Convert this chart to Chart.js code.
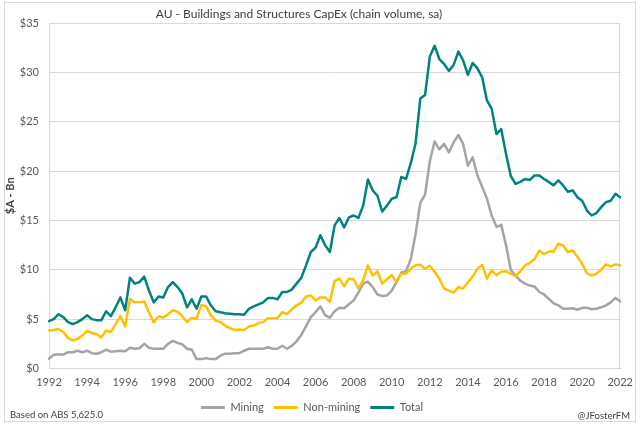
<!DOCTYPE html>
<html><head><meta charset="utf-8">
<script src="https://cdn.jsdelivr.net/npm/chart.js@4.4.0/dist/chart.umd.min.js"></script>
<style>html,body{margin:0;padding:0;background:#fff;}canvas{display:block;}</style>
</head><body>
<canvas id="c" width="640" height="427"></canvas>
<script>
const firstYear = 1992, lastYear = 2022;
const categories = [];
for (let y = firstYear; y <= lastYear; y++) {
  for (let q = 1; q <= 4; q++) {
    if (y === lastYear && q > 1) break;
    categories.push(y + 'Q' + q);
  }
}
const xTickYears = [1992,1994,1996,1998,2000,2002,2004,2006,2008,2010,2012,2014,2016,2018,2020,2022];
const yTickValues = [0,5,10,15,20,25,30,35];

const mining = [
  1.0,1.4,1.45,1.4,1.65,1.65,1.8,1.65,1.8,1.55,
  1.5,1.65,1.9,1.7,1.75,1.8,1.75,2.1,2.0,2.05,
  2.5,2.1,2.0,2.0,2.0,2.5,2.8,2.6,2.45,2.0,
  1.9,0.95,0.95,1.05,0.95,0.95,1.3,1.5,1.5,1.55,
  1.55,1.8,2.0,2.0,2.0,2.0,2.15,2.0,2.0,2.3,
  2.0,2.3,2.75,3.4,4.3,5.2,5.7,6.3,5.4,5.15,
  5.8,6.15,6.1,6.5,6.9,7.7,8.6,8.8,8.25,7.5,
  7.35,7.4,7.9,8.75,9.7,9.85,11.1,13.6,16.8,17.6,
  21.0,23.0,22.2,22.75,21.9,22.9,23.65,22.75,20.55,21.4,
  19.55,18.4,17.2,15.5,14.35,14.55,12.5,10.0,9.4,8.9,
  8.6,8.4,8.3,7.75,7.5,7.05,6.6,6.4,6.05,6.05,
  6.1,5.95,6.15,6.15,6.0,6.05,6.2,6.4,6.7,7.15,
  6.8
];
const nonMining = [
  3.85,3.9,4.0,3.7,3.1,2.85,3.0,3.35,3.8,3.6,
  3.5,3.15,3.85,3.7,4.5,5.3,4.25,7.05,6.7,6.7,
  6.8,5.7,4.7,5.3,5.15,5.5,5.9,5.75,5.3,4.7,
  5.15,5.05,6.4,6.3,5.4,4.85,4.7,4.35,4.1,3.9,
  3.95,3.9,4.25,4.35,4.6,4.7,5.1,5.1,5.1,5.7,
  5.5,6.0,6.4,6.65,7.3,7.4,6.9,7.2,7.2,6.75,
  8.85,9.1,8.35,9.1,9.05,8.1,8.95,10.45,9.4,9.85,
  8.6,9.05,9.45,8.75,9.6,9.6,10.1,10.45,10.5,10.1,
  10.4,9.8,9.1,8.1,7.9,7.7,8.25,8.1,8.75,9.3,
  10.1,10.5,9.1,9.95,9.45,9.8,9.85,9.6,9.35,9.85,
  10.45,10.7,11.1,11.95,11.6,11.85,11.85,12.65,12.45,11.8,
  11.95,11.35,10.6,9.65,9.4,9.6,10.0,10.55,10.35,10.55,
  10.45
];
const total = [
  4.8,5.0,5.5,5.2,4.7,4.5,4.7,5.0,5.4,5.0,
  4.9,4.9,5.8,5.3,6.2,7.2,5.9,9.2,8.6,8.75,
  9.3,7.9,6.7,7.3,7.2,8.25,8.75,8.25,7.6,6.2,
  7.0,6.05,7.3,7.3,6.4,5.8,5.7,5.6,5.55,5.5,
  5.5,5.45,6.05,6.3,6.5,6.7,7.15,7.15,7.0,7.75,
  7.75,8.0,8.6,9.2,10.45,11.8,12.25,13.5,12.5,11.8,
  14.5,15.25,14.3,15.3,15.5,15.25,16.5,19.15,18.05,17.5,
  15.9,16.5,17.2,17.35,19.4,19.2,20.8,22.8,27.35,27.7,
  31.6,32.7,31.35,30.85,30.15,30.75,32.1,31.2,29.75,30.95,
  30.4,29.5,27.15,26.3,23.75,24.25,21.75,19.5,18.7,18.9,
  19.2,19.1,19.55,19.55,19.2,18.9,18.55,19.05,18.55,17.9,
  18.05,17.35,17.0,16.0,15.5,15.75,16.35,16.85,17.0,17.7,
  17.35
];

const seriesNames = ['Mining','Non-mining','Total'];
const chartTitle = 'AU - Buildings and Structures CapEx (chain volume, sa)';
const yAxisTitle = '$A - Bn';
const sourceNote = 'Based on ABS 5,625.0';
const handle = '@JFosterFM';

const FONT = 'Lato, "Open Sans", sans-serif';

const deco = {
  id: 'deco',
  beforeDraw(c) {
    const g = c.ctx;
    g.save();
    g.fillStyle = '#ffffff';
    g.fillRect(0, 0, c.width, c.height);
    g.strokeStyle = '#D9D9D9';
    g.lineWidth = 1;
    g.strokeRect(4.5, 2.5, 631, 419);
    g.restore();
  },
  beforeDatasetsDraw(c) {
    const g = c.ctx, a = c.chartArea;
    g.save();
    g.strokeStyle = '#D9D9D9';
    g.lineWidth = 1;
    g.strokeRect(Math.round(a.left) + 0.5, Math.round(a.top) + 0.5, Math.round(a.right - a.left) - 1, Math.round(a.bottom - a.top) - 1);
    g.restore();
  },
  afterDraw(c) {
    const g = c.ctx;
    g.save();
    g.fillStyle = '#404040';
    g.font = '12px ' + FONT;
    g.textAlign = 'center';
    g.textBaseline = 'middle';
    g.fillText(chartTitle, 299, 14);
    g.fillStyle = '#404040';
    g.font = '9.5px ' + FONT;
    g.textAlign = 'left';
    g.fillText(sourceNote, 10, 415);
    g.textAlign = 'right';
    g.fillText(handle, 630, 416);
    g.restore();
  }
};

const colors = ['#A5A5A5', '#FFC000', '#00827E'];
const seriesData = [mining, nonMining, total];

new Chart(document.getElementById('c'), {
  type: 'line',
  data: {
    labels: categories,
    datasets: seriesNames.map((n, i) => ({
      label: n,
      data: seriesData[i],
      borderColor: colors[i],
      backgroundColor: colors[i],
      order: 3 - i
    }))
  },
  options: {
    responsive: false,
    animation: false,
    devicePixelRatio: 1,
    layout: { padding: { top: 23, right: 16, bottom: 4, left: 0 } },
    elements: {
      line: { borderWidth: 2.5, tension: 0, borderJoinStyle: 'round', borderCapStyle: 'round' },
      point: { radius: 0, hoverRadius: 0 }
    },
    scales: {
      x: {
        type: 'category',
        grid: { display: false, drawTicks: false },
        border: { display: true, color: '#BFBFBF', width: 1 },
        ticks: {
          autoSkip: false, maxRotation: 0, minRotation: 0, padding: 7,
          color: '#595959', font: { family: FONT, size: 11 },
          callback: function(v, idx) {
            const c = categories[idx];
            const yr = +c.slice(0, 4);
            return (c.endsWith('Q1') && xTickYears.includes(yr)) ? String(yr) : null;
          }
        },
        afterFit(s) { s.height = 23.5; }
      },
      y: {
        min: 0, max: 35,
        afterBuildTicks(s) { s.ticks = yTickValues.map(v => ({ value: v })); },
        grid: { color: '#D9D9D9', drawTicks: false, lineWidth: 1 },
        border: { display: false },
        ticks: {
          padding: 10, color: '#595959', font: { family: FONT, size: 11 },
          callback: v => '$' + v
        },
        title: {
          display: true, text: yAxisTitle, color: '#404040',
          font: { family: FONT, size: 11, weight: 'bold' },
          padding: { top: 4, bottom: 0 }
        },
        afterFit(s) { s.width = 49; }
      }
    },
    plugins: {
      title: { display: false },
      tooltip: { enabled: false },
      legend: {
        position: 'bottom',
        labels: {
          boxWidth: 24, boxHeight: 3, padding: 10,
          color: '#595959', font: { family: FONT, size: 11 },
          sort: (a, b) => a.datasetIndex - b.datasetIndex,
          generateLabels(chart) {
            const items = Chart.defaults.plugins.legend.labels.generateLabels(chart);
            items.forEach(it => { it.lineWidth = 0; it.fillStyle = it.strokeStyle; });
            return items;
          }
        }
      }
    }
  },
  plugins: [deco]
});
</script>
</body></html>
